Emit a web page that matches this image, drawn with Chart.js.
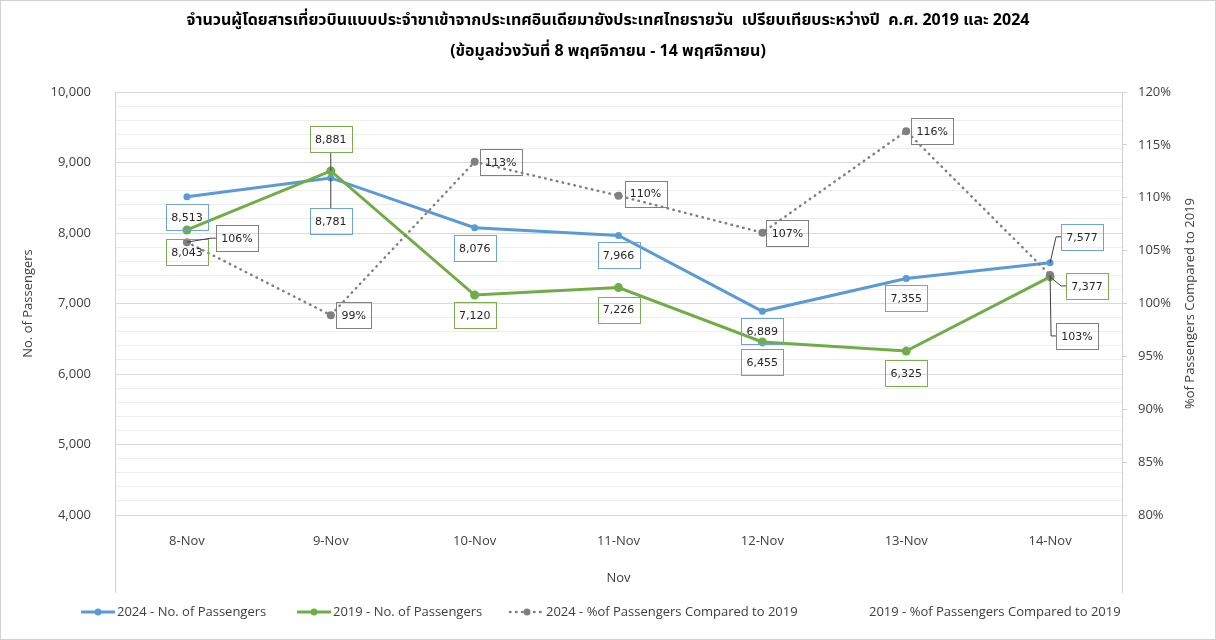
<!DOCTYPE html>
<html><head><meta charset="utf-8">
<script src="https://cdn.jsdelivr.net/npm/chart.js@4.4.1/dist/chart.umd.min.js"></script>
<style>html,body{margin:0;padding:0;background:#fff}#wrap{width:1216px;height:640px;position:relative}canvas{display:block}</style>
</head><body><div id="wrap"><canvas id="c" width="1216" height="640" style="width:1216px;height:640px"></canvas></div>
<script>
// ---- data ----
const categories = ['8-Nov', '9-Nov', '10-Nov', '11-Nov', '12-Nov', '13-Nov', '14-Nov'];
const passengers2024 = [8513, 8781, 8076, 7966, 6889, 7355, 7577];
const passengers2019 = [8043, 8881, 7120, 7226, 6455, 6325, 7377];
const pct2024 = [105.8, 98.9, 113.4, 110.2, 106.7, 116.3, 102.7];
const pct2019 = [100, 100, 100, 100, 100, 100, 100];
const seriesNames = ['2024 - No. of Passengers', '2019 - No. of Passengers', '2024 - %of Passengers Compared to 2019', '2019 - %of Passengers Compared to 2019'];
const titleLines = ['จำนวนผู้โดยสารเที่ยวบินแบบประจำขาเข้าจากประเทศอินเดียมายังประเทศไทยรายวัน  เปรียบเทียบระหว่างปี  ค.ศ. 2019 และ 2024', '(ข้อมูลช่วงวันที่ 8 พฤศจิกายน - 14 พฤศจิกายน)'];
const leftAxisTitle = 'No. of Passengers';
const rightAxisTitle = '%of Passengers Compared to 2019';
const xAxisTitle = 'Nov';
const leftTickRange = [4000, 10000];
const rightTickRange = [80, 120];

// ---- label placement (offsets from point, px) ----
const labelOffsets = [
  [[0,20],[0,43],[0,20],[0,20],[0,20],[0,20],[32,-26]],
  [[0,22],[0,-32],[0,20],[0,22],[0,20],[0,22],[37,9]],
  [[50,-4],[23,0],[26,0],[27,-2],[25,0],[26,0],[27,61]]
];
const labelBorders = ['#6fa3d6', '#7cad55', '#808080'];

const fmtNum = v => v.toLocaleString('en-US');
const fmtPct = v => Math.round(v) + '%';

const labelPlugin = {
  id: 'boxLabels',
  afterDatasetsDraw(chart) {
    const ctx = chart.ctx;
    ctx.save();
    ctx.font = '11px "DejaVu Sans", sans-serif';
    ctx.textAlign = 'center';
    ctx.textBaseline = 'middle';
    for (let d = 0; d < 3; d++) {
      const meta = chart.getDatasetMeta(d);
      const vals = chart.data.datasets[d].data;
      meta.data.forEach((pt, i) => {
        const txt = d === 2 ? fmtPct(vals[i]) : fmtNum(vals[i]);
        const [dx, dy] = labelOffsets[d][i];
        const cx = pt.x + dx, cy = pt.y + dy;
        const w = Math.round(ctx.measureText(txt).width + 11), h = 26;
        const L = cx - w/2, T = cy - h/2;
        ctx.strokeStyle = '#404040'; ctx.lineWidth = 1;
        if (Math.abs(dx) < w/2) {
          const edgeY = dy > 0 ? T : T + h;
          if (Math.abs(edgeY - pt.y) > 10) {
            ctx.beginPath(); ctx.moveTo(pt.x, pt.y); ctx.lineTo(cx, edgeY); ctx.stroke();
          }
        } else if (L - pt.x > 10 || Math.abs(dy) > h / 2) {
          ctx.beginPath(); ctx.moveTo(pt.x, pt.y); ctx.lineTo(L - 5, cy); ctx.lineTo(L, cy); ctx.stroke();
        }
        ctx.strokeStyle = labelBorders[d];
        ctx.strokeRect(Math.round(L) + 0.5, Math.round(T) + 0.5, w, h);
        ctx.fillStyle = '#262626';
        ctx.fillText(txt, cx, cy + 1);
      });
    }
    ctx.restore();
  }
};

const decorPlugin = {
  id: 'decor',
  afterDraw(chart) {
    const ctx = chart.ctx, a = chart.chartArea;
    ctx.save();
    ctx.strokeStyle = '#d0d0d0'; ctx.lineWidth = 1;
    ctx.beginPath();
    ctx.moveTo(Math.round(a.left) + 0.5, a.bottom); ctx.lineTo(Math.round(a.left) + 0.5, 593);
    ctx.moveTo(Math.round(a.right) + 0.5, a.bottom); ctx.lineTo(Math.round(a.right) + 0.5, 593);
    ctx.stroke();
    ctx.fillStyle = '#404040';
    ctx.font = '13px "Open Sans", sans-serif';
    ctx.textAlign = 'center'; ctx.textBaseline = 'middle';
    ctx.translate(1190, (a.top + a.bottom) / 2);
    ctx.rotate(-Math.PI / 2);
    ctx.fillText(rightAxisTitle, 0, 0);
    ctx.setTransform(1, 0, 0, 1, 0, 0);
    const y = 612;
    const items = [
      {x: 81, color: '#5b9bd5', kind: 'solid'},
      {x: 297, color: '#70ad47', kind: 'solid'},
      {x: 510, color: '#808080', kind: 'dot'},
      {x: 869, color: null, kind: 'none'}
    ];
    ctx.font = '13px "Open Sans", sans-serif';
    ctx.textAlign = 'left';
    items.forEach((it, k) => {
      let tx = it.x;
      if (it.kind !== 'none') {
        ctx.strokeStyle = it.color; ctx.fillStyle = it.color;
        ctx.lineWidth = it.kind === 'solid' ? 3 : 2.5;
        ctx.lineCap = it.kind === 'dot' ? 'round' : 'butt';
        ctx.setLineDash(it.kind === 'dot' ? [0.5, 5.5] : []);
        ctx.beginPath(); ctx.moveTo(it.x, y); ctx.lineTo(it.x + 34, y); ctx.stroke();
        ctx.setLineDash([]);
        ctx.beginPath(); ctx.arc(it.x + 17, y, 3.5, 0, Math.PI * 2); ctx.fill();
        tx = it.x + 36;
      }
      ctx.fillStyle = '#404040';
      ctx.fillText(seriesNames[k], tx, y);
    });
    ctx.strokeStyle = '#d0d0d0'; ctx.lineWidth = 1;
    ctx.strokeRect(0.5, 0.5, 1215, 639);
    ctx.restore();
  }
};

const tickFont = {family: '"Open Sans", sans-serif', size: 13};

new Chart(document.getElementById('c'), {
  type: 'line',
  data: {
    labels: categories,
    datasets: [
      {label: seriesNames[0], data: passengers2024, yAxisID: 'y', borderColor: '#5b9bd5', backgroundColor: '#5b9bd5', borderWidth: 3, pointRadius: 3.5, pointBorderWidth: 0, order: 2},
      {label: seriesNames[1], data: passengers2019, yAxisID: 'y', borderColor: '#70ad47', backgroundColor: '#70ad47', borderWidth: 3, pointRadius: 4.5, pointBorderWidth: 0, order: 1},
      {label: seriesNames[2], data: pct2024, yAxisID: 'y2', borderColor: '#808080', backgroundColor: '#808080', borderWidth: 2.5, borderDash: [0.5, 5.5], borderCapStyle: 'round', pointRadius: 4, pointBorderWidth: 0, order: 0},
      {label: seriesNames[3], data: pct2019, yAxisID: 'y2', showLine: false, pointRadius: 0, borderColor: 'rgba(0,0,0,0)', backgroundColor: 'rgba(0,0,0,0)', order: 3}
    ]
  },
  options: {
    responsive: false,
    maintainAspectRatio: false,
    animation: false,
    devicePixelRatio: 1,
    layout: {padding: {top: 0, left: 0, right: 0, bottom: 50}},
    plugins: {
      legend: {display: false},
      tooltip: {enabled: false},
      title: {
        display: true, text: titleLines, color: '#000',
        font: {family: '"Noto Sans Thai", Tahoma, "Noto Sans", sans-serif', size: 16, weight: 'bold', lineHeight: 1.9375},
        padding: {top: 6.5, bottom: 23.5}
      }
    },
    scales: {
      x: {
        offset: true,
        grid: {display: false, drawTicks: false},
        border: {display: true, color: '#d9d9d9'},
        ticks: {color: '#404040', font: tickFont, padding: 18, maxRotation: 0},
        title: {display: true, text: xAxisTitle, color: '#404040', font: tickFont, padding: {top: 4, bottom: 4.2}},
        afterFit: s => { s.height = 75; }
      },
      y: {
        position: 'left',
        min: leftTickRange[0], max: leftTickRange[1],
        ticks: {stepSize: 200, autoSkip: false, color: '#404040', font: tickFont, padding: 24,
          callback: v => (v % 1000 === 0 ? v.toLocaleString('en-US') : '')},
        grid: {drawTicks: false, color: c => (c.tick && c.tick.value % 1000 === 0 ? '#d9d9d9' : '#eeeeee'), lineWidth: 1},
        border: {display: true, color: '#d0d0d0'},
        title: {display: true, text: leftAxisTitle, color: '#404040', font: tickFont, padding: {top: 20, bottom: 0}},
        afterFit: s => { s.width = 115; }
      },
      y2: {
        position: 'right',
        min: rightTickRange[0], max: rightTickRange[1],
        ticks: {stepSize: 5, autoSkip: false, color: '#404040', font: tickFont, padding: 11, callback: v => v + '%'},
        grid: {drawOnChartArea: false, drawTicks: true, tickLength: 5, color: '#d0d0d0'},
        border: {display: true, color: '#d0d0d0'},
        afterFit: s => { s.width = 94; }
      }
    }
  },
  plugins: [labelPlugin, decorPlugin]
});
</script></body></html>
